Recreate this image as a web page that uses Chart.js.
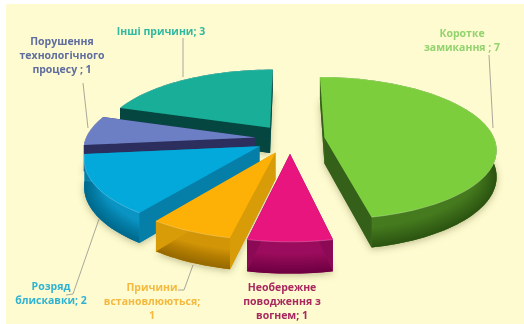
<!DOCTYPE html>
<html>
<head>
<meta charset="utf-8">
<title>Причини пожеж</title>
<script src="https://cdn.jsdelivr.net/npm/chart.js@4"></script>
<style>
	html, body { margin: 0; padding: 0; background: #fff; overflow: hidden; }
	#pieWrap { position: absolute; left: 0; top: 0; width: 524px; height: 324px; }
</style>
</head>
<body>
<div id="pieWrap"><canvas id="pieChart" width="524" height="324"></canvas></div>
<script>
	var categories = [
		["Коротке", "замикання ;"],
		["Необережне", "поводження з", "вогнем;"],
		["Причини", "встановлюються;", ""],
		["Розряд", "блискавки;"],
		["Порушення", "технологічного", "процесу ;"],
		["Інші причини;"]
	];
	var values = [7, 1, 1, 2, 1, 3];

	var faceColors = ["#7dce3c", "#e8157f", "#fdb005", "#03a9db", "#6c7fc4", "#18ae98"];
	var wallColors = ["#457a1e", "#9c0c5e", "#d29508", "#0a94c4", "#2f3263", "#07524a"];
	var cutColors = ["#35601a", "#8c0a55", "#d79c07", "#057fa8", "#2c2f5e", "#064640"];
	var textColors = ["#93d36f", "#a8285f", "#f4b93f", "#2fb3d3", "#5f6d9f", "#2fb9a0"];

	// centre x, first baseline
	var labelSpots = [[462, 37], [282, 291], [152, 291], [51, 290], [62, 45], [161, 35]];
	// grey leader lines
	var leaders = [
		[[489, 55], [493, 128]],
		[],
		[[193, 265], [184, 290], [178, 290]],
		[[99, 219], [73, 294], [66, 295]],
		[[83, 83], [88, 128]],
		[[183, 38], [183, 77]]
	];

	var CX = 290, CY = 139, RX = 170, RY = 70, PERSP = 0.15, DEPTH = 26;

	function project(nx, ny, z) {
		var k = 1 / (1 - PERSP * ny);
		return [CX + nx * RX * k, CY + ny * RY * k + z * DEPTH * k];
	}

	function outline(arc) {
		var explode = arc.options.offset / arc.outerRadius;
		var mid = (arc.startAngle + arc.endAngle) / 2;
		var ax = Math.cos(mid) * explode, ay = Math.sin(mid) * explode;
		var pts = [[ax, ay]];
		var steps = Math.max(8, Math.round((arc.endAngle - arc.startAngle) * 30));
		for (var i = 0; i <= steps; i++) {
			var a = arc.startAngle + (arc.endAngle - arc.startAngle) * i / steps;
			pts.push([ax + Math.cos(a), ay + Math.sin(a)]);
		}
		return pts;
	}

	function tracePath(ctx, list, open) {
		ctx.beginPath();
		list.forEach(function (p, i) {
			if (i === 0) ctx.moveTo(p[0], p[1]);
			else ctx.lineTo(p[0], p[1]);
		});
		if (!open) ctx.closePath();
	}

	function drawSlice(ctx, arc, idx) {
		var pts = outline(arc);
		var rimTop = pts.slice(1).map(function (p) { return project(p[0], p[1], 0); });
		var rimLow = pts.slice(1).map(function (p) { return project(p[0], p[1], 1); });
		var band = rimTop.concat(rimLow.slice().reverse());

		// soft shadow below the slice
		ctx.save();
		ctx.shadowColor = "rgba(90,80,40,0.35)";
		ctx.shadowBlur = 7;
		ctx.shadowOffsetY = 2;
		ctx.fillStyle = wallColors[idx];
		tracePath(ctx, pts.map(function (p) { return project(p[0], p[1], 1); }));
		ctx.fill();
		ctx.restore();

		// outer wall, darker towards the floor
		tracePath(ctx, band);
		ctx.fillStyle = wallColors[idx];
		ctx.fill();
		ctx.save();
		ctx.clip();
		ctx.strokeStyle = "rgba(0,0,0,0.022)";
		for (var w = 2; w <= 40; w += 3) {
			ctx.lineWidth = w;
			tracePath(ctx, rimLow, true);
			ctx.stroke();
		}
		ctx.restore();

		// the two cut faces
		var apex = pts[0];
		[pts[1], pts[pts.length - 1]].forEach(function (end) {
			tracePath(ctx, [
				project(apex[0], apex[1], 0), project(end[0], end[1], 0),
				project(end[0], end[1], 1), project(apex[0], apex[1], 1)
			]);
			ctx.fillStyle = cutColors[idx];
			ctx.fill();
		});

		tracePath(ctx, pts.map(function (p) { return project(p[0], p[1], 0); }));
		ctx.fillStyle = faceColors[idx];
		ctx.fill();

		// lighter rim along the outer edge
		tracePath(ctx, rimTop, true);
		ctx.strokeStyle = "rgba(255,255,255,0.22)";
		ctx.lineWidth = 1;
		ctx.stroke();
	}

	var slices3d = {
		id: "slices3d",
		beforeDraw: function (chart) {
			var ctx = chart.ctx;
			ctx.save();
			ctx.fillStyle = "#fdfbcf";
			ctx.fillRect(6, 4, chart.width - 6, chart.height - 4);
			ctx.restore();
		},
		beforeDatasetDraw: function () {
			// the slices are painted below, with their side walls
			return false;
		},
		afterDatasetsDraw: function (chart) {
			var ctx = chart.ctx;
			var arcs = chart.getDatasetMeta(0).data;
			var i;
			ctx.save();
			ctx.strokeStyle = "#a9a89a";
			ctx.lineWidth = 1;
			leaders.forEach(function (line) {
				if (!line.length) return;
				tracePath(ctx, line, true);
				ctx.stroke();
			});
			for (i = arcs.length - 1; i >= 0; i--) {
				drawSlice(ctx, arcs[i], i);
			}
			ctx.font = "bold 10.5px 'Open Sans'";
			ctx.textAlign = "center";
			ctx.textBaseline = "alphabetic";
			categories.forEach(function (lines, n) {
				ctx.fillStyle = textColors[n];
				lines.forEach(function (txt, l) {
					var shown = l === lines.length - 1 ? (txt + " " + values[n]).trim() : txt;
					ctx.fillText(shown, labelSpots[n][0], labelSpots[n][1] + l * 14);
				});
			});
			ctx.restore();
		}
	};

	var pieChartCanvas = document.getElementById("pieChart").getContext("2d");

	var config = {
		type: "pie",
		data: {
			labels: categories.map(function (c) { return c.join(" "); }),
			datasets: [{
				data: values,
				backgroundColor: faceColors,
				borderWidth: 0,
				offset: 30
			}]
		},
		options: {
			responsive: false,
			animation: false,
			plugins: {
				legend: { display: false },
				tooltip: { enabled: false }
			}
		},
		plugins: [slices3d]
	};

	var pieChart = new Chart(pieChartCanvas, config);
</script>
</body>
</html>
